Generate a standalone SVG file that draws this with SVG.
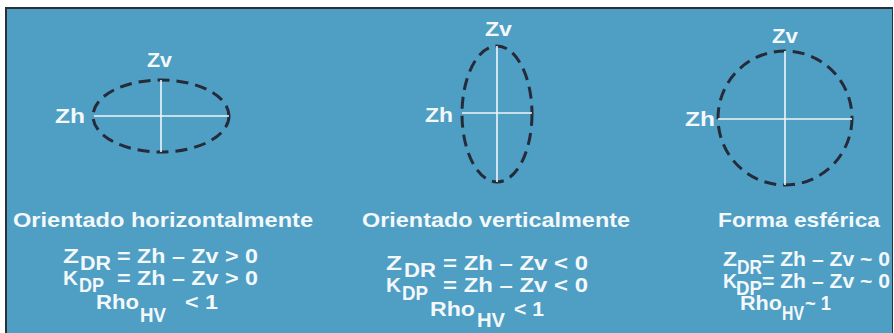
<svg xmlns="http://www.w3.org/2000/svg" width="894" height="333" viewBox="0 0 894 333">
<style>
text{font-family:"Liberation Sans",Arial,sans-serif;font-weight:bold;fill:#f3f8fb}
.t{font-size:21px}
.f{font-size:21px}
.s{font-size:19.5px}
.lb{font-size:20.5px}
.shape{fill:none;stroke:#252b38;stroke-width:3;stroke-dasharray:12 7}
.ax{stroke:#eef5f9;stroke-width:1.6}
</style>
<rect x="0" y="0" width="894" height="333" fill="#ffffff"/>
<rect x="5" y="7" width="888" height="326" fill="#2b3038"/>
<rect x="7" y="9" width="885" height="324" fill="#4f9ec4"/>

<g id="particle-horizontal">
<ellipse class="shape" cx="161" cy="116" rx="68" ry="36"/>
<line class="ax" x1="94" y1="116" x2="229" y2="116"/>
<line class="ax" x1="161" y1="80" x2="161" y2="152"/>
<text class="lb" x="147" y="67" textLength="25" lengthAdjust="spacingAndGlyphs">Zv</text>
<text class="lb" x="55" y="123" textLength="30" lengthAdjust="spacingAndGlyphs">Zh</text>
</g>

<g id="particle-vertical">
<ellipse class="shape" cx="497" cy="114" rx="35" ry="68"/>
<line class="ax" x1="462" y1="113" x2="532" y2="113"/>
<line class="ax" x1="497" y1="46" x2="497" y2="182"/>
<text class="lb" x="485" y="36" textLength="27" lengthAdjust="spacingAndGlyphs">Zv</text>
<text class="lb" x="425" y="122" textLength="28" lengthAdjust="spacingAndGlyphs">Zh</text>
</g>

<g id="particle-spherical">
<circle class="shape" cx="785" cy="118" r="67"/>
<line class="ax" x1="718" y1="119" x2="852" y2="119"/>
<line class="ax" x1="785" y1="51" x2="785" y2="185"/>
<text class="lb" x="772" y="43" textLength="26" lengthAdjust="spacingAndGlyphs">Zv</text>
<text class="lb" x="685" y="126" textLength="30" lengthAdjust="spacingAndGlyphs">Zh</text>
</g>

<g id="caption-horizontal">
<text class="t" x="13" y="227" textLength="300" lengthAdjust="spacingAndGlyphs">Orientado horizontalmente</text>
<text class="f" x="63" y="263" textLength="16" lengthAdjust="spacingAndGlyphs">Z</text>
<text class="s" x="80" y="270" textLength="31" lengthAdjust="spacingAndGlyphs">DR</text>
<text class="f" x="117" y="263" textLength="141" lengthAdjust="spacingAndGlyphs">= Zh – Zv &gt; 0</text>
<text class="f" x="63" y="285" textLength="15" lengthAdjust="spacingAndGlyphs">K</text>
<text class="s" x="79" y="292" textLength="25" lengthAdjust="spacingAndGlyphs">DP</text>
<text class="f" x="117" y="285" textLength="141" lengthAdjust="spacingAndGlyphs">= Zh – Zv &gt; 0</text>
<text class="f" x="96" y="309" textLength="43" lengthAdjust="spacingAndGlyphs">Rho</text>
<text class="s" x="140" y="322" textLength="26" lengthAdjust="spacingAndGlyphs">HV</text>
<text class="f" x="185" y="309" textLength="33" lengthAdjust="spacingAndGlyphs">&lt; 1</text>
</g>

<g id="caption-vertical">
<text class="t" x="362" y="227" textLength="268" lengthAdjust="spacingAndGlyphs">Orientado verticalmente</text>
<text class="f" x="386" y="270" textLength="16" lengthAdjust="spacingAndGlyphs">Z</text>
<text class="s" x="404" y="277" textLength="32" lengthAdjust="spacingAndGlyphs">DR</text>
<text class="f" x="443" y="270" textLength="145" lengthAdjust="spacingAndGlyphs">= Zh – Zv &lt; 0</text>
<text class="f" x="386" y="292" textLength="15" lengthAdjust="spacingAndGlyphs">K</text>
<text class="s" x="402" y="300" textLength="26" lengthAdjust="spacingAndGlyphs">DP</text>
<text class="f" x="443" y="292" textLength="145" lengthAdjust="spacingAndGlyphs">= Zh – Zv &lt; 0</text>
<text class="f" x="430" y="316" textLength="45" lengthAdjust="spacingAndGlyphs">Rho</text>
<text class="s" x="477" y="327" textLength="28" lengthAdjust="spacingAndGlyphs">HV</text>
<text class="f" x="514" y="316" textLength="30" lengthAdjust="spacingAndGlyphs">&lt; 1</text>
</g>

<g id="caption-spherical">
<text class="t" x="718" y="227" textLength="162" lengthAdjust="spacingAndGlyphs">Forma esférica</text>
<text class="f" x="723" y="266" textLength="14" lengthAdjust="spacingAndGlyphs">Z</text>
<text class="s" x="737" y="274" textLength="25" lengthAdjust="spacingAndGlyphs">DR</text>
<text class="f" x="762" y="266" textLength="128" lengthAdjust="spacingAndGlyphs">= Zh – Zv ~ 0</text>
<text class="f" x="723" y="288" textLength="14" lengthAdjust="spacingAndGlyphs">K</text>
<text class="s" x="736" y="295" textLength="26" lengthAdjust="spacingAndGlyphs">DP</text>
<text class="f" x="762" y="288" textLength="128" lengthAdjust="spacingAndGlyphs">= Zh – Zv ~ 0</text>
<text class="f" x="740" y="310" textLength="42" lengthAdjust="spacingAndGlyphs">Rho</text>
<text class="s" x="782" y="320" textLength="22" lengthAdjust="spacingAndGlyphs">HV</text>
<text class="f" x="805" y="310" textLength="26" lengthAdjust="spacingAndGlyphs">~ 1</text>
</g>
</svg>
